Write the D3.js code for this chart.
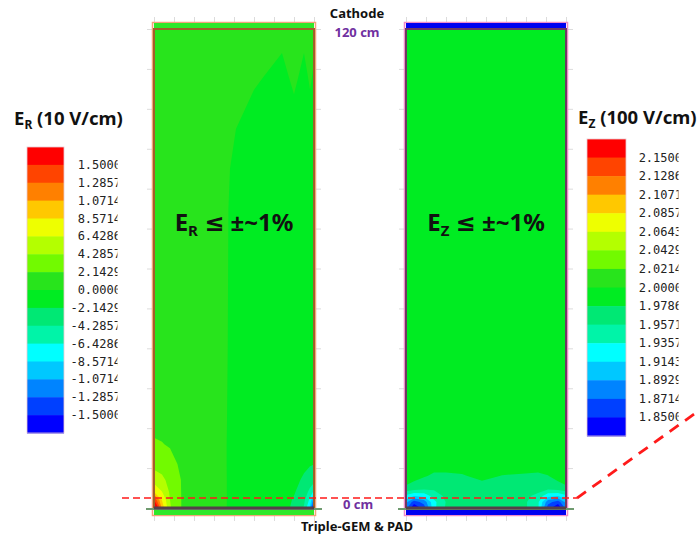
<!DOCTYPE html>
<html lang="en">
<head>
  <meta charset="UTF-8">
  <title>E field map</title>
  <style>
    body { margin: 0; background: #fff; }
    text { font-family: "Noto Sans", "DejaVu Sans", sans-serif; }
    .tick-lab { font-family: "DejaVu Sans Mono", monospace; font-size: 12px; fill: #222; }
    .note { font-size: 13px; font-weight: bold; }
  </style>
</head>
<body>
<div id="chart"></div>
<script src="https://cdn.jsdelivr.net/npm/d3@7/dist/d3.min.js"></script>
<script>
// colour bands, low -> high (16 bands for 15 levels)
let bandColors = ['#0000ff', '#0040ff', '#0084ff', '#00c8ff', '#00ffff', '#00f4a8', '#00e874', '#00ec22',
  '#28e41c', '#72fa00', '#b4ff00', '#eeff00', '#ffc800', '#ff8000', '#ff4400', '#ff0000']

// level values (low -> high) and legend labels as printed (high -> low)
let erLevels = [-1.5, -1.2857, -1.0714, -0.85714, -0.64286, -0.42857, -0.21429, 0, 0.21429, 0.42857, 0.64286, 0.85714, 1.0714, 1.2857, 1.5]
let erLabels = ['1.5000', '1.2857', '1.0714', '8.5714', '6.4286', '4.2857', '2.1429', '0.0000', '-2.1429', '-4.2857', '-6.4286', '-8.5714', '-1.0714', '-1.2857', '-1.5000']
let ezLevels = [1.85, 1.8714, 1.8929, 1.9143, 1.9357, 1.9571, 1.9786, 2.0, 2.0214, 2.0429, 2.0643, 2.0857, 2.1071, 2.1286, 2.15]
let ezLabels = ['2.1500', '2.1286', '2.1071', '2.0857', '2.0643', '2.0429', '2.0214', '2.0000', '1.9786', '1.9571', '1.9357', '1.9143', '1.8929', '1.8714', '1.8500']

// E_R field (10 V/cm): columns r (cm), rows z (cm), bottom -> top
let erR = [0, 2, 4, 7, 12, 17, 19, 25, 32, 35, 37.5, 39, 40]
let erZ = [0, 2, 4, 7, 11, 16, 22, 40, 75, 95, 108, 120]
let erGrid = [
  [2.2, 1.0, 0.45, 0.2, 0.14, 0.12, -0.08, -0.1, -0.15, -0.25, -0.45, -0.9, -1.8],
  [1.5, 0.85, 0.43, 0.2, 0.14, 0.12, -0.08, -0.1, -0.14, -0.23, -0.38, -0.7, -1.2],
  [0.85, 0.65, 0.4, 0.2, 0.14, 0.12, -0.08, -0.1, -0.13, -0.2, -0.3, -0.5, -0.7],
  [0.55, 0.48, 0.36, 0.2, 0.13, 0.12, -0.08, -0.1, -0.12, -0.17, -0.24, -0.3, -0.35],
  [0.36, 0.33, 0.27, 0.18, 0.13, 0.11, -0.08, -0.1, -0.11, -0.14, -0.18, -0.2, -0.21],
  [0.23, 0.22, 0.2, 0.15, 0.12, 0.11, -0.08, -0.1, -0.1, -0.12, -0.14, -0.15, -0.15],
  [0.17, 0.16, 0.15, 0.13, 0.12, 0.1, -0.06, -0.1, -0.1, -0.1, -0.1, -0.1, -0.1],
  [0.15, 0.15, 0.14, 0.13, 0.11, 0.1, -0.04, -0.1, -0.1, -0.1, -0.1, -0.1, -0.1],
  [0.12, 0.12, 0.12, 0.11, 0.1, 0.08, -0.02, -0.1, -0.1, -0.1, -0.1, -0.1, -0.1],
  [0.1, 0.1, 0.1, 0.1, 0.1, 0.06, 0.02, -0.06, -0.08, -0.06, -0.08, -0.06, -0.05],
  [0.1, 0.06, 0.1, 0.04, 0.1, 0.05, 0.06, 0.02, -0.04, 0.03, -0.04, 0.02, -0.02],
  [0.1, 0.1, 0.1, 0.08, 0.1, 0.08, 0.06, 0.05, 0.04, 0.05, 0.04, 0.05, 0.04]
]

// E_Z field (100 V/cm)
let ezR = [0, 2, 4.5, 7, 10, 14, 19, 24, 29, 33, 35.5, 38, 40]
let ezZ = [0, 1.5, 3, 5, 8, 11, 20, 60, 120]
let ezGrid = [
  [1.88, 1.83, 1.86, 1.93, 1.96, 1.965, 1.965, 1.965, 1.965, 1.94, 1.86, 1.83, 1.88],
  [1.9, 1.86, 1.88, 1.93, 1.958, 1.965, 1.966, 1.966, 1.965, 1.94, 1.88, 1.86, 1.9],
  [1.93, 1.915, 1.92, 1.945, 1.962, 1.967, 1.968, 1.967, 1.966, 1.95, 1.92, 1.915, 1.93],
  [1.975, 1.97, 1.965, 1.962, 1.966, 1.97, 1.972, 1.97, 1.97, 1.968, 1.965, 1.97, 1.975],
  [1.99, 1.985, 1.98, 1.976, 1.976, 1.977, 1.983, 1.978, 1.977, 1.976, 1.978, 1.985, 1.99],
  [1.99, 1.99, 1.988, 1.985, 1.985, 1.986, 1.988, 1.986, 1.985, 1.985, 1.987, 1.99, 1.99],
  [1.99, 1.99, 1.99, 1.99, 1.99, 1.99, 1.99, 1.99, 1.99, 1.99, 1.99, 1.99, 1.99],
  [1.99, 1.99, 1.99, 1.99, 1.99, 1.99, 1.99, 1.99, 1.99, 1.99, 1.99, 1.99, 1.99],
  [1.99, 1.99, 1.99, 1.99, 1.99, 1.99, 1.99, 1.99, 1.99, 1.99, 1.99, 1.99, 1.99]
]

let width = 697
let height = 536
let svg = d3.select('#chart').append('svg').attr('width', width).attr('height', height)

// common z scale, one r scale per panel
let yScale = d3.scaleLinear().domain([0, 120]).range([508, 29])
let xLeft = d3.scaleLinear().domain([0, 40]).range([154, 314])
let xRight = d3.scaleLinear().domain([0, 40]).range([406, 566])

function drawPanel(id, x, rs, zs, grid, levels, style) {
  let g = svg.append('g')
  let x0 = x(0), x1 = x(40), yTop = yScale(120), yBot = yScale(0)

  // faint frame ticks
  let tk = g.append('g').attr('class', 'ticks')
  tk.append('g').attr('transform', 'translate(' + (x0 - 2) + ',0)')
    .call(d3.axisLeft(yScale).ticks(12).tickSize(5).tickFormat(''))
  tk.append('g').attr('transform', 'translate(' + (x1 + 2) + ',0)')
    .call(d3.axisRight(yScale).ticks(12).tickSize(5).tickFormat(''))
  tk.append('g').attr('transform', 'translate(0,' + (yScale(121.5) - 1) + ')')
    .call(d3.axisTop(x).ticks(8).tickSize(5).tickFormat(''))
  tk.append('g').attr('transform', 'translate(0,' + (yScale(-1.75) + 1) + ')')
    .call(d3.axisBottom(x).ticks(8).tickSize(5).tickFormat(''))
  tk.selectAll('.domain').remove()
  tk.selectAll('line').attr('stroke', '#dcdcdc')

  // outer frame and end strips
  g.append('rect').attr('x', x0 - 1.5).attr('y', yScale(121.5) - 0.5)
    .attr('width', x1 - x0 + 3).attr('height', yScale(-1.75) - yScale(121.5) + 1)
    .attr('fill', 'none').attr('stroke', style.outer).attr('stroke-width', 1.5)
  g.append('rect').attr('x', x0).attr('y', yScale(121.5)).attr('width', x1 - x0)
    .attr('height', yTop - yScale(121.5)).attr('fill', style.strip)
  g.append('rect').attr('x', x0).attr('y', yBot).attr('width', x1 - x0)
    .attr('height', yScale(-1.75) - yBot).attr('fill', style.strip)

  // contour bands
  let nc = rs.length, nr = zs.length
  let rc = d3.scaleLinear().domain([0].concat(rs.map((d, i) => i + 0.5), [nc])).range([rs[0]].concat(rs, [rs[nc - 1]]))
  let zc = d3.scaleLinear().domain([0].concat(zs.map((d, i) => i + 0.5), [nr])).range([zs[0]].concat(zs, [zs[nr - 1]]))
  let proj = d3.geoTransform({
    point: function (px, py) { this.stream.point(x(rc(px)), yScale(zc(py))) }
  })
  let path = d3.geoPath(proj)
  let values = grid.flat()
  let bands = d3.contours().size([nc, nr]).thresholds(levels)(values)

  svg.append('clipPath').attr('id', 'clip-' + id).append('rect')
    .attr('x', x0).attr('y', yTop).attr('width', x1 - x0).attr('height', yBot - yTop)
  let cg = g.append('g').attr('clip-path', 'url(#clip-' + id + ')')
  cg.append('rect').attr('x', x0).attr('y', yTop).attr('width', x1 - x0).attr('height', yBot - yTop)
    .attr('fill', bandColors[0])
  cg.selectAll('path').data(bands).enter().append('path')
    .attr('d', path)
    .attr('fill', (d, i) => bandColors[i + 1])

  // drift volume boundary
  g.append('rect').attr('x', x0).attr('y', yTop).attr('width', x1 - x0).attr('height', yBot - yTop)
    .attr('fill', 'none').attr('stroke', style.inner).attr('stroke-width', 2)
  // GEM plane line
  g.append('line').attr('x1', x0 - 8).attr('x2', x1 + 8).attr('y1', yBot + 1).attr('y2', yBot + 1)
    .attr('stroke', '#6f9a6f').attr('stroke-width', 2)
  g.append('line').attr('x1', x0).attr('x2', x1).attr('y1', yBot).attr('y2', yBot)
    .attr('stroke', '#55404a').attr('stroke-width', 3)
}

drawPanel('er', xLeft, erR, erZ, erGrid, erLevels, { outer: '#f4a27a', inner: '#a0602a', strip: '#2ee82a' })
drawPanel('ez', xRight, ezR, ezZ, ezGrid, ezLevels, { outer: '#f08ac8', inner: '#6e3a62', strip: '#0000f0' })

// legends
function drawLegend(id, x, y0, y1, w, labels, textEnd, clipX) {
  let g = svg.append('g')
  let band = d3.scaleBand().domain(d3.range(16)).range([y0, y1])
  let top = bandColors.slice().reverse()
  g.selectAll('rect').data(top).enter().append('rect')
    .attr('x', x).attr('y', (d, i) => band(i)).attr('width', w).attr('height', band.bandwidth() + 0.5)
    .attr('fill', d => d)
  g.append('rect').attr('x', x).attr('y', y0).attr('width', w).attr('height', y1 - y0)
    .attr('fill', 'none').attr('stroke', '#e8c8d0').attr('stroke-width', 0.8)
  svg.append('clipPath').attr('id', 'lc-' + id).append('rect')
    .attr('x', 0).attr('y', 0).attr('width', clipX).attr('height', height)
  g.append('g').attr('clip-path', 'url(#lc-' + id + ')')
    .selectAll('text').data(labels).enter().append('text')
    .attr('class', 'tick-lab')
    .attr('x', textEnd).attr('y', (d, i) => band(i + 1) + 4)
    .attr('text-anchor', 'end')
    .text(d => d)
}
drawLegend('er', 27, 147, 433, 37, erLabels, 121, 117.5)
drawLegend('ez', 587, 139, 436, 39, ezLabels, 682, 678.5)

// legend titles
function title(x, y, sub, rest) {
  let t = svg.append('text').attr('x', x).attr('y', y).attr('font-size', 18.5).attr('font-weight', 'bold').attr('fill', '#111')
  t.append('tspan').text('E')
  t.append('tspan').attr('font-size', 12).attr('dy', 4).text(sub)
  t.append('tspan').attr('dy', -4).text(rest)
}
title(14, 125, 'R', ' (10 V/cm)')
title(578, 124, 'Z', ' (100 V/cm)')

// statements inside panels
function statement(cx, sub) {
  let t = svg.append('text').attr('x', cx).attr('y', 231).attr('text-anchor', 'middle')
    .attr('font-size', 24).attr('font-weight', 'bold').attr('fill', '#111')
  t.append('tspan').text('E')
  t.append('tspan').attr('font-size', 15).attr('dy', 5).text(sub)
  t.append('tspan').attr('dy', -5).text(' \u2264  \u00b1~1%')
}
statement(234, 'R')
statement(486, 'Z')

// annotations
svg.append('text').attr('class', 'note').attr('x', 357).attr('y', 18).attr('text-anchor', 'middle').attr('fill', '#111').text('Cathode')
svg.append('text').attr('class', 'note').attr('x', 357).attr('y', 37).attr('text-anchor', 'middle').attr('fill', '#7030a0').text('120 cm')
svg.append('text').attr('class', 'note').attr('x', 358).attr('y', 509).attr('text-anchor', 'middle').attr('fill', '#7030a0').text('0 cm')
svg.append('text').attr('class', 'note').attr('x', 357).attr('y', 531).attr('text-anchor', 'middle').attr('fill', '#111').text('Triple-GEM & PAD')

// red dashed reference line at z = 2.5 cm
let yRef = yScale(2.5)
svg.append('line').attr('x1', 122).attr('x2', 577).attr('y1', yRef).attr('y2', yRef)
  .attr('stroke', '#ff1a1a').attr('stroke-width', 1.5).attr('stroke-dasharray', '7,4')
svg.append('line').attr('x1', 577).attr('y1', yRef).attr('x2', 720).attr('y2', yRef - (720 - 577) * 0.717)
  .attr('stroke', '#ff1a1a').attr('stroke-width', 2.8).attr('stroke-dasharray', '11,8')
</script>
</body>
</html>
